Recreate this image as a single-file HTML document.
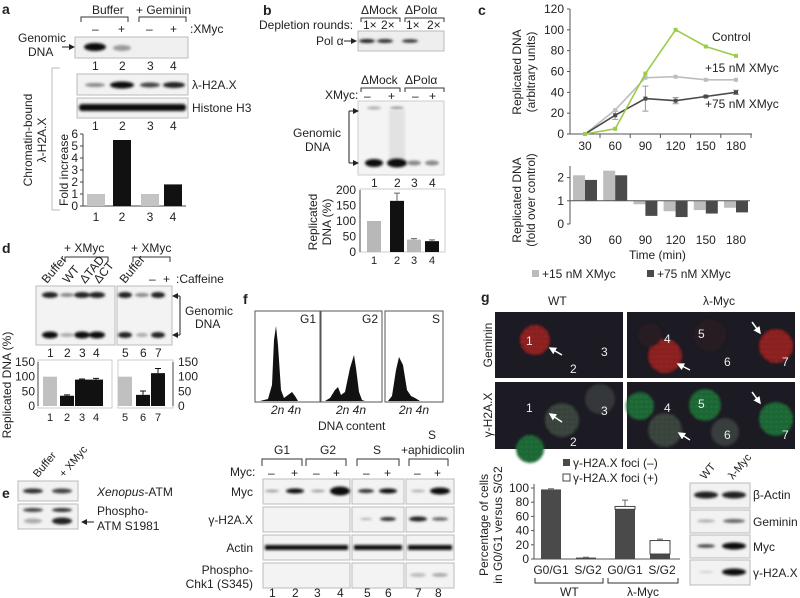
<!DOCTYPE html>
<html><head><meta charset="utf-8"><style>
html,body{margin:0;padding:0;background:#fff;}
svg{display:block;font-family:"Liberation Sans",sans-serif;}
text{font-size:12px;fill:#222;}
.b{font-weight:bold;font-size:14px;}
.s{font-size:11px;}
text.w{fill:#eee;}
</style></head><body>
<svg id="fig" width="800" height="598" viewBox="0 0 800 598">
<defs>
<filter id="bl" x="-50%" y="-200%" width="200%" height="500%"><feGaussianBlur stdDeviation="1.2"/></filter>
<filter id="bl2" x="-50%" y="-50%" width="200%" height="200%"><feGaussianBlur stdDeviation="1.3"/></filter>
<pattern id="specR" width="5" height="5" patternUnits="userSpaceOnUse"><rect width="5" height="5" fill="#7a1c1e"/><circle cx="1.5" cy="1.5" r="1" fill="#d03030"/><circle cx="4" cy="3.5" r="0.8" fill="#b82828"/></pattern>
<pattern id="specG" width="5" height="5" patternUnits="userSpaceOnUse"><rect width="5" height="5" fill="#1a5a30"/><circle cx="1.5" cy="1.5" r="0.9" fill="#2fae52"/><circle cx="4" cy="3.5" r="0.7" fill="#269a46"/></pattern>
<pattern id="specGr" width="5" height="5" patternUnits="userSpaceOnUse"><rect width="5" height="5" fill="#3a3d3e"/><circle cx="2" cy="2" r="0.7" fill="#2b8a44"/></pattern>
<marker id="ah" markerWidth="6" markerHeight="6" refX="5" refY="3" orient="auto"><path d="M0,0 L6,3 L0,6 z" fill="#222"/></marker>
<marker id="ahw" markerWidth="5" markerHeight="5" refX="4" refY="2.5" orient="auto"><path d="M0,0 L5,2.5 L0,5 z" fill="#fff"/></marker>
</defs>

<!-- ===== Panel a ===== -->
<g>
<text x="2" y="14" class="b">a</text>
<text x="92" y="14">Buffer</text>
<text x="136" y="14">+ Geminin</text>
<path d="M81,22 V17 H128 V22 M139,22 V17 H186 V22" fill="none" stroke="#333"/>
<text x="92" y="33">–</text><text x="118" y="33">+</text>
<text x="146" y="33">–</text><text x="170" y="33">+</text>
<text x="190" y="33">:XMyc</text>
<text x="18" y="42">Genomic</text>
<text x="28" y="56">DNA</text>
<line x1="62" y1="47" x2="74" y2="47" stroke="#222" marker-end="url(#ah)"/>
<rect x="75" y="37" width="113" height="21" fill="#f0f0f0" stroke="#bbb"/>
<ellipse cx="95" cy="47" rx="11" ry="4" fill="#111" filter="url(#bl)"/>
<ellipse cx="122" cy="48" rx="9" ry="3" fill="#999" filter="url(#bl)"/>
<g class="s"><text x="92" y="70">1</text><text x="119" y="70">2</text><text x="147" y="70">3</text><text x="170" y="70">4</text></g>
<rect x="77" y="74" width="111" height="21" fill="#f2f2f2" stroke="#bbb"/>
<ellipse cx="95" cy="85" rx="10" ry="2" fill="#888" filter="url(#bl)"/>
<ellipse cx="122" cy="85" rx="12" ry="3.5" fill="#111" filter="url(#bl)"/>
<ellipse cx="150" cy="85" rx="10" ry="2.5" fill="#444" filter="url(#bl)"/>
<ellipse cx="174" cy="85" rx="11" ry="3" fill="#222" filter="url(#bl)"/>
<text x="192" y="89">λ-H2A.X</text>
<rect x="77" y="98" width="111" height="20" fill="#f2f2f2" stroke="#bbb"/>
<rect x="79" y="104" width="107" height="7" rx="3" fill="#111" filter="url(#bl)"/>
<text x="192" y="112">Histone H3</text>
<g class="s"><text x="92" y="130">1</text><text x="119" y="130">2</text><text x="147" y="130">3</text><text x="170" y="130">4</text></g>
<path d="M60,68 H52 V210 H60" fill="none" stroke="#bbb"/>
<text transform="translate(32,140) rotate(-90)" text-anchor="middle">Chromatin-bound</text>
<text transform="translate(46,140) rotate(-90)" text-anchor="middle">λ-H2A.X</text>
<text transform="translate(68,170) rotate(-90)" text-anchor="middle">Fold increase</text>
<g id="chartA"></g>
</g>

<!-- ===== Panel b ===== -->
<g>
<text x="263" y="15" class="b">b</text>
<text x="361" y="14">ΔMock</text>
<text x="405" y="14">ΔPolα</text>
<path d="M361,22 V18 H400 V22 M405,22 V18 H444 V22" fill="none" stroke="#333"/>
<text x="259" y="29">Depletion rounds:</text>
<g class="s"><text x="363" y="29">1×</text><text x="381" y="29">2×</text><text x="406" y="29">1×</text><text x="427" y="29">2×</text></g>
<text x="316" y="45">Pol α</text>
<line x1="344" y1="41" x2="356" y2="41" stroke="#222" marker-end="url(#ah)"/>
<rect x="358" y="31" width="86" height="20" fill="#eee" stroke="#bbb"/>
<ellipse cx="367" cy="41" rx="8" ry="2" fill="#222" filter="url(#bl)"/>
<ellipse cx="385" cy="41" rx="8" ry="2" fill="#333" filter="url(#bl)"/>
<ellipse cx="410" cy="41" rx="8" ry="1.8" fill="#333" filter="url(#bl)"/>
<text x="361" y="84">ΔMock</text>
<text x="405" y="84">ΔPolα</text>
<path d="M361,92 V88 H400 V92 M405,92 V88 H444 V92" fill="none" stroke="#333"/>
<text x="325" y="99">XMyc:</text>
<g><text x="364" y="100">–</text><text x="388" y="100">+</text><text x="412" y="100">–</text><text x="429" y="100">+</text></g>
<rect x="358" y="101" width="86" height="74" fill="#f4f4f4" stroke="#ccc"/>
<ellipse cx="374" cy="108" rx="7" ry="1.5" fill="#aaa" filter="url(#bl)"/>
<ellipse cx="397" cy="108" rx="7" ry="1.5" fill="#999" filter="url(#bl)"/>
<rect x="389" y="110" width="16" height="50" fill="#e2e2e2" filter="url(#bl2)"/>
<ellipse cx="374" cy="163" rx="9" ry="4" fill="#111" filter="url(#bl)"/>
<ellipse cx="397" cy="163" rx="10" ry="4.5" fill="#111" filter="url(#bl)"/>
<ellipse cx="414" cy="163" rx="7" ry="2.5" fill="#888" filter="url(#bl)"/>
<ellipse cx="432" cy="163" rx="7" ry="2.5" fill="#888" filter="url(#bl)"/>
<text x="293" y="137">Genomic</text>
<text x="305" y="151">DNA</text>
<path d="M349,111 V163" stroke="#222"/>
<line x1="349" y1="111" x2="358" y2="111" stroke="#222" marker-end="url(#ah)"/>
<line x1="349" y1="163" x2="358" y2="163" stroke="#222" marker-end="url(#ah)"/>
<g class="s"><text x="371" y="187">1</text><text x="394" y="187">2</text><text x="411" y="187">3</text><text x="429" y="187">4</text></g>
<text transform="translate(317,222) rotate(-90)" text-anchor="middle">Replicated</text>
<text transform="translate(331,222) rotate(-90)" text-anchor="middle">DNA (%)</text>
<g id="chartB"></g>
</g>

<!-- ===== Panel c ===== -->
<g>
<text x="478" y="15" class="b">c</text>
<text transform="translate(521,72) rotate(-90)" text-anchor="middle">Replicated DNA</text>
<text transform="translate(535,72) rotate(-90)" text-anchor="middle">(arbitrary units)</text>
<text transform="translate(521,200) rotate(-90)" text-anchor="middle">Replicated DNA</text>
<text transform="translate(535,200) rotate(-90)" text-anchor="middle">(fold over control)</text>
<text x="712" y="41">Control</text>
<text x="705" y="72">+15 nM XMyc</text>
<text x="705" y="108">+75 nM XMyc</text>
<g id="chartC"></g>
<g id="chartC2"></g>
<text x="629" y="259">Time (min)</text>
<rect x="532" y="270" width="7" height="7" fill="#bbb"/>
<text x="542" y="278">+15 nM XMyc</text>
<rect x="647" y="270" width="7" height="7" fill="#4a4a4a"/>
<text x="657" y="278">+75 nM XMyc</text>
</g>

<!-- ===== Panel d ===== -->
<g>
<text x="2" y="253" class="b">d</text>
<text x="64" y="252">+ XMyc</text>
<text x="131" y="252">+ XMyc</text>
<path d="M65,262 V257 H108 V262 M133,262 V257 H170 V262" fill="none" stroke="#333"/>
<g class="s">
<text transform="translate(47,284) rotate(-50)">Buffer</text>
<text transform="translate(68,284) rotate(-50)">WT</text>
<text transform="translate(85,284) rotate(-50)">ΔTAD</text>
<text transform="translate(99,284) rotate(-50)">ΔCT</text>
<text transform="translate(125,284) rotate(-50)">Buffer</text>
</g>
<text x="149" y="283">–</text><text x="163" y="283">+</text>
<text x="176" y="283">:Caffeine</text>
<rect x="36" y="286" width="79" height="59" fill="#f3f3f3" stroke="#bbb"/>
<rect x="117" y="286" width="55" height="59" fill="#f3f3f3" stroke="#bbb"/>
<g filter="url(#bl)">
<ellipse cx="50" cy="295" rx="8" ry="3" fill="#222"/><ellipse cx="67" cy="295" rx="7" ry="2" fill="#888"/><ellipse cx="82" cy="295" rx="8" ry="3" fill="#222"/><ellipse cx="97" cy="295" rx="8" ry="3" fill="#222"/>
<ellipse cx="125" cy="295" rx="7" ry="3" fill="#222"/><ellipse cx="142" cy="295" rx="7" ry="2" fill="#888"/><ellipse cx="158" cy="295" rx="7" ry="3" fill="#222"/>
<ellipse cx="50" cy="335" rx="8" ry="3.5" fill="#111"/><ellipse cx="67" cy="335" rx="7" ry="2" fill="#aaa"/><ellipse cx="82" cy="335" rx="8" ry="3.5" fill="#111"/><ellipse cx="97" cy="335" rx="8" ry="3.5" fill="#111"/>
<ellipse cx="125" cy="335" rx="7" ry="3" fill="#222"/><ellipse cx="142" cy="335" rx="6" ry="2" fill="#aaa"/><ellipse cx="158" cy="335" rx="7" ry="3" fill="#222"/>
</g>
<path d="M180,296 V335" stroke="#222"/>
<line x1="180" y1="296" x2="173" y2="296" stroke="#222" marker-end="url(#ah)"/>
<line x1="180" y1="335" x2="173" y2="335" stroke="#222" marker-end="url(#ah)"/>
<text x="185" y="315">Genomic</text>
<text x="195" y="328">DNA</text>
<g class="s"><text x="47" y="357">1</text><text x="64" y="357">2</text><text x="79" y="357">3</text><text x="93" y="357">4</text><text x="122" y="357">5</text><text x="140" y="357">6</text><text x="155" y="357">7</text></g>
<text transform="translate(11,385) rotate(-90)" text-anchor="middle">Replicated DNA (%)</text>
<g id="chartD"></g>
</g>

<!-- ===== Panel e ===== -->
<g>
<text x="2" y="498" class="b">e</text>
<text transform="translate(38,478) rotate(-50)" class="s">Buffer</text>
<text transform="translate(64,478) rotate(-50)" class="s">+ XMyc</text>
<rect x="18" y="481" width="60" height="20" fill="#f2f2f2" stroke="#bbb"/>
<rect x="18" y="504" width="60" height="25" fill="#f2f2f2" stroke="#bbb"/>
<g filter="url(#bl)">
<ellipse cx="33" cy="491" rx="10" ry="2.5" fill="#333"/><ellipse cx="62" cy="491" rx="10" ry="2.5" fill="#444"/>
<ellipse cx="33" cy="510" rx="10" ry="2" fill="#444"/><ellipse cx="62" cy="510" rx="10" ry="2" fill="#333"/>
<ellipse cx="33" cy="521" rx="9" ry="2.5" fill="#aaa"/><ellipse cx="62" cy="521" rx="10" ry="3.5" fill="#222"/>
</g>
<text x="97" y="496"><tspan font-style="italic">Xenopus</tspan>-ATM</text>
<text x="97" y="515">Phospho-</text>
<text x="97" y="530">ATM S1981</text>
<line x1="94" y1="522" x2="82" y2="522" stroke="#222" marker-end="url(#ah)"/>
</g>

<!-- ===== Panel f ===== -->
<g>
<text x="243" y="304" class="b">f</text>
<rect x="255" y="311" width="65" height="91" fill="#fff" stroke="#555"/>
<rect x="321" y="311" width="61" height="91" fill="#fff" stroke="#555"/>
<rect x="385" y="311" width="58" height="91" fill="#fff" stroke="#555"/>
<path d="M260,401 L268,399 L272,385 L274,340 L276,326 L278,345 L281,390 L284,398 L288,395 L292,392 L295,396 L298,401 Z" fill="#111"/>
<path d="M325,401 L330,398 L335,390 L338,387 L341,395 L345,392 L350,368 L354,355 L356,368 L359,392 L362,400 L365,401 Z" fill="#111"/>
<path d="M388,401 L392,396 L396,370 L399,357 L403,365 L407,390 L411,396 L415,398 L420,401 Z" fill="#111"/>
<text x="300" y="323">G1</text>
<text x="362" y="323">G2</text>
<text x="432" y="323">S</text>
<g font-style="italic"><text x="271" y="414">2n 4n</text><text x="336" y="414">2n 4n</text><text x="399" y="414">2n 4n</text></g>
<text x="318" y="430">DNA content</text>
<text x="274" y="454">G1</text>
<text x="320" y="454">G2</text>
<text x="373" y="454">S</text>
<text x="428" y="439">S</text>
<text x="401" y="454">+aphidicolin</text>
<path d="M262,466 V459 H302 V466 M306,466 V459 H346 V466 M357,466 V459 H399 V466 M409,466 V459 H448 V466" fill="none" stroke="#333"/>
<text x="230" y="476">Myc:</text>
<g><text x="268" y="477">–</text><text x="291" y="477">+</text><text x="313" y="477">–</text><text x="333" y="477">+</text><text x="363" y="477">–</text><text x="384" y="477">+</text><text x="414" y="477">–</text><text x="434" y="477">+</text></g>
<g fill="#f3f3f3" stroke="#bbb">
<rect x="263" y="479" width="87" height="25"/><rect x="352" y="479" width="52" height="25"/><rect x="406" y="479" width="48" height="25"/>
<rect x="263" y="507" width="87" height="25"/><rect x="352" y="507" width="52" height="25"/><rect x="406" y="507" width="48" height="25"/>
<rect x="263" y="535" width="87" height="25"/><rect x="352" y="535" width="52" height="25"/><rect x="406" y="535" width="48" height="25"/>
<rect x="263" y="563" width="87" height="25"/><rect x="352" y="563" width="52" height="25"/><rect x="406" y="563" width="48" height="25"/>
</g>
<g filter="url(#bl)">
<ellipse cx="272" cy="491" rx="7" ry="1.2" fill="#999"/><ellipse cx="295" cy="491" rx="9" ry="2.5" fill="#111"/><ellipse cx="318" cy="491" rx="7" ry="1.2" fill="#999"/><ellipse cx="340" cy="491" rx="10" ry="4.5" fill="#111"/>
<ellipse cx="366" cy="491" rx="8" ry="2" fill="#333"/><ellipse cx="388" cy="491" rx="9" ry="2.5" fill="#111"/><ellipse cx="418" cy="491" rx="7" ry="1.2" fill="#aaa"/><ellipse cx="440" cy="491" rx="10" ry="3.5" fill="#111"/>
<ellipse cx="366" cy="519" rx="6" ry="1" fill="#aaa"/><ellipse cx="388" cy="519" rx="8" ry="2" fill="#333"/><ellipse cx="418" cy="519" rx="9" ry="2.5" fill="#222"/><ellipse cx="440" cy="519" rx="8" ry="1.8" fill="#666"/>
<rect x="265" y="545" width="83" height="5" fill="#111"/><rect x="354" y="545" width="48" height="5" fill="#111"/><rect x="408" y="545" width="44" height="5" fill="#111"/>
<ellipse cx="418" cy="575" rx="8" ry="2" fill="#bbb"/><ellipse cx="440" cy="575" rx="8" ry="2" fill="#aaa"/>
</g>
<g text-anchor="end"><text x="253" y="496">Myc</text><text x="253" y="524">γ-H2A.X</text><text x="253" y="552">Actin</text><text x="253" y="574">Phospho-</text><text x="253" y="588">Chk1 (S345)</text></g>
<g class="s"><text x="269" y="597">1</text><text x="292" y="597">2</text><text x="314" y="597">3</text><text x="337" y="597">4</text><text x="364" y="597">5</text><text x="385" y="597">6</text><text x="415" y="597">7</text><text x="435" y="597">8</text></g>
</g>

<!-- ===== Panel g ===== -->
<g>
<text x="481" y="302" class="b">g</text>
<text x="548" y="305">WT</text>
<text x="703" y="305">λ-Myc</text>
<text transform="translate(492,345) rotate(-90)" text-anchor="middle">Geminin</text>
<text transform="translate(492,415) rotate(-90)" text-anchor="middle">γ-H2A.X</text>
<rect x="495" y="312" width="128" height="66" fill="#1c1a22"/>
<rect x="627" y="312" width="168" height="66" fill="#1c1a22"/>
<rect x="495" y="382" width="128" height="67" fill="#1c1a22"/>
<rect x="627" y="382" width="168" height="67" fill="#1c1a22"/>
<g filter="url(#bl2)">
<circle cx="535" cy="340" r="15" fill="url(#specR)"/>
<circle cx="665" cy="356" r="17" fill="url(#specR)"/><circle cx="776" cy="346" r="17" fill="url(#specR)"/><circle cx="710" cy="335" r="16" fill="#281d23"/><circle cx="650" cy="335" r="12" fill="#271d23"/>
<circle cx="562" cy="420" r="17" fill="url(#specGr)"/><circle cx="600" cy="399" r="15" fill="#34383a"/><circle cx="530" cy="449" r="14" fill="url(#specG)"/>
<circle cx="640" cy="406" r="14" fill="url(#specG)"/><circle cx="665" cy="430" r="17" fill="url(#specGr)"/><circle cx="705" cy="405" r="16" fill="url(#specG)"/><circle cx="725" cy="432" r="14" fill="#383c3e"/><circle cx="776" cy="419" r="17" fill="url(#specG)"/>
</g>
<g>
<text x="526" y="345" class="w">1</text><text x="570" y="373" class="w">2</text><text x="601" y="356" class="w">3</text>
<text x="664" y="343" class="w">4</text><text x="698" y="338" class="w">5</text><text x="724" y="366" class="w">6</text><text x="782" y="366" class="w">7</text>
<text x="526" y="412" class="w">1</text><text x="570" y="446" class="w">2</text><text x="601" y="415" class="w">3</text>
<text x="664" y="412" class="w">4</text><text x="698" y="408" class="w">5</text><text x="724" y="439" class="w">6</text><text x="782" y="439" class="w">7</text>
</g>
<g stroke="#fff" stroke-width="1.5">
<line x1="562" y1="355" x2="550" y2="348" marker-end="url(#ahw)"/><line x1="690" y1="370" x2="678" y2="364" marker-end="url(#ahw)"/><line x1="752" y1="322" x2="760" y2="333" marker-end="url(#ahw)"/>
<line x1="562" y1="422" x2="550" y2="414" marker-end="url(#ahw)"/><line x1="690" y1="440" x2="679" y2="433" marker-end="url(#ahw)"/><line x1="752" y1="392" x2="760" y2="403" marker-end="url(#ahw)"/>
</g>
<rect x="563" y="459" width="7" height="7" fill="#4a4a4a"/>
<text x="573" y="467">γ-H2A.X foci (–)</text>
<rect x="563" y="474" width="7" height="7" fill="#fff" stroke="#444"/>
<text x="573" y="482">γ-H2A.X foci (+)</text>
<text transform="translate(488,525) rotate(-90)" text-anchor="middle">Percentage of cells</text>
<text transform="translate(502,525) rotate(-90)" text-anchor="middle">in G0/G1 versus S/G2</text>
<g id="chartG"></g>
<path d="M535,578 V583 H603 V578 M608,578 V583 H678 V578" fill="none" stroke="#333"/>
<text x="560" y="596">WT</text>
<text x="627" y="596">λ-Myc</text>
<text transform="translate(705,480) rotate(-50)" class="s">WT</text>
<text transform="translate(733,480) rotate(-50)" class="s">λ-Myc</text>
<g fill="#f2f2f2" stroke="#bbb">
<rect x="690" y="483" width="60" height="25"/><rect x="690" y="510" width="60" height="23"/><rect x="690" y="535" width="60" height="23"/><rect x="690" y="560" width="60" height="25"/>
</g>
<g filter="url(#bl)">
<ellipse cx="706" cy="495" rx="12" ry="3.5" fill="#222"/><ellipse cx="734" cy="495" rx="12" ry="3.5" fill="#222"/>
<ellipse cx="706" cy="521" rx="9" ry="1.5" fill="#aaa"/><ellipse cx="734" cy="521" rx="11" ry="2" fill="#666"/>
<ellipse cx="706" cy="546" rx="9" ry="1.8" fill="#444"/><ellipse cx="734" cy="546" rx="12" ry="3.5" fill="#111"/>
<ellipse cx="706" cy="572" rx="7" ry="1" fill="#ccc"/><ellipse cx="734" cy="572" rx="12" ry="3.5" fill="#111"/>
</g>
<g><text x="753" y="499">β-Actin</text><text x="753" y="526">Geminin</text><text x="753" y="551">Myc</text><text x="753" y="577">γ-H2A.X</text></g>
</g>
</svg>

<script>
// ---- data ----
const aLanes = ["1","2","3","4"];
const aValues = [1, 5.5, 1, 1.8];
const aTicks = [0,1,2,3,4,5,6];
const bLanes = ["1","2","3","4"];
const bValues = [100, 165, 40, 35];
const bErrors = [0, 25, 3, 4];
const bTicks = [0,50,100,150,200];
const cTimes = [30,60,90,120,150,180];
const cControl = [0, 5, 58, 100, 84, 75];
const c15 = [0, 23, 54, 55, 52, 52];
const c75 = [0, 18, 34, 32, 36, 40];
const c75err = [0, 4, 12, 3, 1, 2];
const cTicks = [0,20,40,60,80,100,120];
const cFold15 = [2.1, 2.3, 0.85, 0.55, 0.6, 0.7];
const cFold75 = [1.9, 2.1, 0.35, 0.3, 0.45, 0.5];
const cFoldTicks = [0,1,2];
const d1Values = [100, 35, 90, 90];
const d1Errors = [0, 3, 2, 4];
const d2Values = [100, 38, 112];
const d2Errors = [0, 13, 16];
const dTicks = [0,50,100,150];
const gCats = ["G0/G1","S/G2","G0/G1","S/G2"];
const gNeg = [98, 2, 70, 7];
const gPos = [0, 0, 4, 19];
const gErr = [1, 0.5, 9, 2];
const gTicks = [0,20,40,60,80,100];

const NS = "http://www.w3.org/2000/svg";
function mk(parent, tag, attrs, txt){
  const e = document.createElementNS(NS, tag);
  for (const k in attrs) e.setAttribute(k, attrs[k]);
  if (txt !== undefined) e.textContent = txt;
  parent.appendChild(e);
  return e;
}
function lin(d0,d1,r0,r1){return v => r0 + (v-d0)/(d1-d0)*(r1-r0);}

// ---- chart a ----
(function(){
  const g = document.getElementById('chartA');
  const y = lin(0,6,206,134);
  const xs = [96,122,150,173];
  const ax = mk(g,'path',{d:'M83,134 V206 H186',fill:'none',stroke:'#444'});
  
  
  aTicks.forEach(t=>{
    const tl = mk(g,'text',{x:78,y:y(t)+4,'text-anchor':'end'},String(t));
    
    
    mk(g,'line',{x1:80,x2:83,y1:y(t),y2:y(t),stroke:'#444'});
  });
  aValues.forEach((v,i)=>{
    const r = mk(g,'rect',{x:xs[i]-9,y:y(v),width:18,height:y(0)-y(v),fill:i%2? '#111':'#c4c4c4'});
    
    
    const l = mk(g,'text',{x:xs[i],y:221,'text-anchor':'middle'},aLanes[i]);
    
    
  });
})();

// ---- chart b ----
(function(){
  const g = document.getElementById('chartB');
  const y = lin(0,200,252,190);
  const xs = [374,397,414,432];
  const bx = mk(g,'rect',{x:360,y:189,width:85,height:63,fill:'none',stroke:'#ccc'});
  
  
  mk(g,'line',{x1:360,x2:360,y1:190,y2:252,stroke:'#444'});
  bTicks.forEach(t=>{
    const tl = mk(g,'text',{x:356,y:y(t)+4,'text-anchor':'end'},String(t));
    
    
  });
  bValues.forEach((v,i)=>{
    const r = mk(g,'rect',{x:xs[i]-7,y:y(v),width:14,height:y(0)-y(v),fill:i%2? '#111':'#b8b8b8'});
    
    
    if (bErrors[i]) mk(g,'path',{d:`M${xs[i]},${y(v)} V${y(v+bErrors[i])} M${xs[i]-3},${y(v+bErrors[i])} H${xs[i]+3}`,stroke:'#666',fill:'none'});
    const l = mk(g,'text',{x:xs[i],y:264,'text-anchor':'middle',class:'s'},bLanes[i]);
    
    
  });
})();

// ---- chart c (line) ----
(function(){
  const g = document.getElementById('chartC');
  const x = lin(30,180,585,736);
  const y = lin(0,120,134,9);
  const ax = mk(g,'path',{d:'M570,9 V134 H752',fill:'none',stroke:'#555'});
  
  
  cTicks.forEach(t=>{
    mk(g,'line',{x1:567,x2:570,y1:y(t),y2:y(t),stroke:'#555'});
    const tl = mk(g,'text',{x:564,y:y(t)+4,'text-anchor':'end'},String(t));
    
    
  });
  cTimes.forEach(t=>{
    mk(g,'line',{x1:x(t)+15,x2:x(t)+15,y1:134,y2:138,stroke:'#555'});
    const tl = mk(g,'text',{x:x(t),y:150,'text-anchor':'middle'},String(t));
    
    
  });
  function series(vals,color,name){
    const p = mk(g,'polyline',{points:vals.map((v,i)=>x(cTimes[i])+','+y(v)).join(' '),fill:'none',stroke:color,'stroke-width':1.6});
    
    
    vals.forEach((v,i)=>{
      const m = mk(g,'rect',{x:x(cTimes[i])-2,y:y(v)-2,width:4,height:4,fill:color});
      
      
    });
  }
  c75err.forEach((e,i)=>{ if(e){ const xx=x(cTimes[i]); mk(g,'path',{d:`M${xx},${y(c75[i]-e)} V${y(c75[i]+e)} M${xx-3},${y(c75[i]-e)} H${xx+3} M${xx-3},${y(c75[i]+e)} H${xx+3}`,stroke:'#999',fill:'none'}); }});
  series(c15,'#bdbdbd','series-15nm');
  series(c75,'#4a4a4a','series-75nm');
  series(cControl,'#9bcc4a','series-control');
})();

// ---- chart c (fold bars) ----
(function(){
  const g = document.getElementById('chartC2');
  const x = lin(30,180,585,736);
  const y = lin(0,2.5,224,166);
  mk(g,'line',{x1:570,x2:570,y1:166,y2:224,stroke:'#555'});
  cFoldTicks.forEach(t=>{
    mk(g,'line',{x1:567,x2:570,y1:y(t),y2:y(t),stroke:'#555'});
    const tl = mk(g,'text',{x:564,y:y(t)+4,'text-anchor':'end'},String(t));
    
    
  });
  cTimes.forEach((t,i)=>{
    [[cFold15,'#bdbdbd',-12],[cFold75,'#4a4a4a',0]].forEach(([arr,col,off])=>{
      const v = arr[i];
      const r = mk(g,'rect',{x:x(t)+off,y:Math.min(y(v),y(1)),width:12,height:Math.abs(y(v)-y(1)),fill:col});
      
      
    });
    const tl = mk(g,'text',{x:x(t),y:244,'text-anchor':'middle'},String(t));
    
    
  });
  mk(g,'line',{x1:570,x2:750,y1:y(1),y2:y(1),stroke:'#555'});
})();

// ---- chart d ----
(function(){
  const g = document.getElementById('chartD');
  const y = lin(0,150,406,362);
  function chart(vals,errs,xs,bx0,bw,labX,anchor,axX){
    const fr = mk(g,'rect',{x:bx0,y:360,width:bw,height:48,fill:'none',stroke:'#ccc'});
    
    
    mk(g,'line',{x1:axX,x2:axX,y1:362,y2:406,stroke:'#444'});
    dTicks.forEach(t=>{
      const tl = mk(g,'text',{x:labX,y:y(t)+4,'text-anchor':anchor},String(t));
      
      
    });
    vals.forEach((v,i)=>{
      const r = mk(g,'rect',{x:xs[i]-7,y:y(v),width:14,height:y(0)-y(v),fill:i? '#111':'#c0c0c0'});
      
      
      if (errs[i]) mk(g,'path',{d:`M${xs[i]},${y(v)} V${y(v+errs[i])} M${xs[i]-3},${y(v+errs[i])} H${xs[i]+3}`,stroke:'#111',fill:'none'});
    });
  }
  chart(d1Values,d1Errors,[50,67,82,96],38,74,35,'end',38);
  chart(d2Values,d2Errors,[125,143,158],118,55,178,'start',173);
  const labs=["1","2","3","4","5","6","7"], lx=[50,67,82,96,125,143,158];
  labs.forEach((s,i)=>{ const t=mk(g,'text',{x:lx[i],y:421,'text-anchor':'middle',class:'s'},s);
    
     });
})();

// ---- chart g ----
(function(){
  const g = document.getElementById('chartG');
  const y = lin(0,100,559,488);
  const xs = [551,586,625,660];
  const ax = mk(g,'path',{d:'M534,484 V559 H680',fill:'none',stroke:'#555'});
  
  
  gTicks.forEach(t=>{
    mk(g,'line',{x1:531,x2:534,y1:y(t),y2:y(t),stroke:'#555'});
    const tl = mk(g,'text',{x:529,y:y(t)+4,'text-anchor':'end'},String(t));
    
    
  });
  gNeg.forEach((v,i)=>{
    const r = mk(g,'rect',{x:xs[i]-10,y:y(v),width:20,height:y(0)-y(v),fill:'#4a4a4a'});
    
    
    if (gPos[i]){
      const r2 = mk(g,'rect',{x:xs[i]-10,y:y(v+gPos[i]),width:20,height:y(v)-y(v+gPos[i]),fill:'#fff',stroke:'#444'});
      
      
    }
    const top = v+gPos[i];
    mk(g,'path',{d:`M${xs[i]},${y(top)} V${y(top+gErr[i])} M${xs[i]-3},${y(top+gErr[i])} H${xs[i]+3}`,stroke:'#666',fill:'none'});
    const l = mk(g,'text',{x:xs[i]+ (i%2?2:0),y:574,'text-anchor':'middle'},gCats[i]);
    
    
  });
})();
</script>
</body></html>
